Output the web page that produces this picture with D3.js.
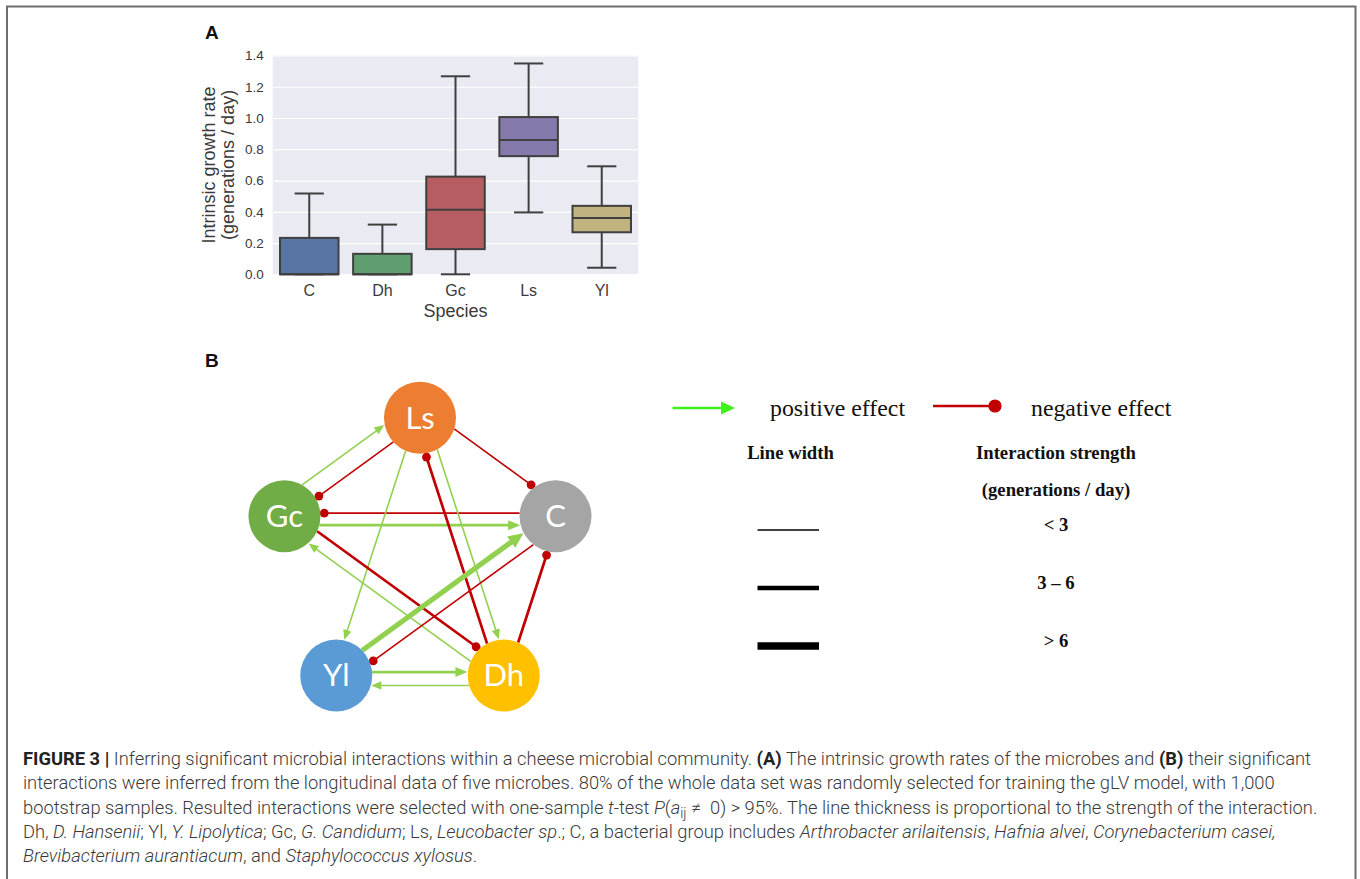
<!DOCTYPE html>
<html>
<head>
<meta charset="utf-8">
<script src="https://cdn.jsdelivr.net/npm/d3@7"></script>
<style>
  html, body { margin: 0; padding: 0; background: #fff; }
  svg { display: block; }
  text { white-space: pre; }
</style>
</head>
<body>
<svg id="fig" width="1360" height="879"></svg>
<script>
// ---- Panel A: intrinsic growth rate per species (box plot summary) ----
const species = ["C", "Dh", "Gc", "Ls", "Yl"];
const whiskerLow  = [0.000, 0.000, 0.000, 0.396, 0.042];
const q1          = [0.000, 0.000, 0.161, 0.756, 0.269];
const medians     = [0.000, 0.000, 0.413, 0.860, 0.360];
const q3          = [0.233, 0.131, 0.625, 1.006, 0.438];
const whiskerHigh = [0.517, 0.318, 1.267, 1.349, 0.691];
const growthTicks = [0.0, 0.2, 0.4, 0.6, 0.8, 1.0, 1.2, 1.4];

// ---- Panel B: significant interactions between the five microbes ----
const nodeNames = ["Ls", "C", "Dh", "Yl", "Gc"];
const edgeFrom     = ["Gc", "Ls", "Ls", "C",  "Gc",    "Ls", "Ls", "Dh",    "Gc",    "Dh", "Yl",  "C",  "Dh",    "Yl",    "Dh"];
const edgeTo       = ["Ls", "Gc", "C",  "Gc", "C",     "Yl", "Dh", "Ls",    "Dh",    "Gc", "C",   "Yl", "C",     "Dh",    "Yl"];
const edgeEffect   = ["pos","neg","neg","neg","pos",   "pos","pos","neg",   "neg",   "pos","pos", "neg","neg",   "pos",   "pos"];
const edgeStrength = ["< 3","< 3","< 3","< 3","3 – 6","< 3","< 3","3 – 6","3 – 6","< 3","> 6","< 3","3 – 6","3 – 6","< 3"];
const strengthBins = ["< 3", "3 – 6", "> 6"];

// ---- Caption text ----
const captionLines = [
  [{t: "FIGURE 3 | ", b: 1}, {t: "Inferring significant microbial interactions within a cheese microbial community. "}, {t: "(A)", b: 1}, {t: " The intrinsic growth rates of the microbes and "}, {t: "(B)", b: 1}, {t: " their significant"}],
  [{t: "interactions were inferred from the longitudinal data of five microbes. 80% of the whole data set was randomly selected for training the gLV model, with 1,000"}],
  [{t: "bootstrap samples. Resulted interactions were selected with one-sample "}, {t: "t", i: 1}, {t: "-test "}, {t: "P", i: 1}, {t: "("}, {t: "a", i: 1}, {t: "ij", sub: 1}, {t: " \u2260  0) > 95%. The line thickness is proportional to the strength of the interaction."}],
  [{t: "Dh, "}, {t: "D. Hansenii", i: 1}, {t: "; Yl, "}, {t: "Y. Lipolytica", i: 1}, {t: "; Gc, "}, {t: "G. Candidum", i: 1}, {t: "; Ls, "}, {t: "Leucobacter sp", i: 1}, {t: ".; C, a bacterial group includes "}, {t: "Arthrobacter arilaitensis", i: 1}, {t: ", "}, {t: "Hafnia alvei", i: 1}, {t: ", "}, {t: "Corynebacterium casei,", i: 1}],
  [{t: "Brevibacterium aurantiacum", i: 1}, {t: ", and "}, {t: "Staphylococcus xylosus", i: 1}, {t: "."}]
];

// ================= drawing =================
const svg = d3.select("#fig");
const SANS = "'Liberation Sans', Arial, Helvetica, sans-serif";
const SERIF = "'Liberation Serif', 'Times New Roman', serif";

// outer frame (open at the bottom)
svg.append("path")
  .attr("d", "M7,879 V6.5 H1355.5 V879")
  .attr("fill", "none").attr("stroke", "#6e6e6e").attr("stroke-width", 2);

// panel letters
svg.append("text").attr("x", 205).attr("y", 38.5).text("A")
  .attr("font-family", SANS).attr("font-weight", "bold").attr("font-size", 19).attr("fill", "#111");
svg.append("text").attr("x", 205).attr("y", 367).text("B")
  .attr("font-family", SANS).attr("font-weight", "bold").attr("font-size", 19).attr("fill", "#111");

// ---------- Panel A ----------
const plotL = 272.7, plotR = 638.3, plotT = 55.5, plotB = 274.3;
const x = d3.scaleBand().domain(species).range([plotL, plotR]).paddingInner(0).paddingOuter(0);
const y = d3.scaleLinear().domain([0, 1.4]).range([plotB, plotT]);
const boxFill = d3.scaleOrdinal().domain(species)
  .range(["#5975a4", "#5f9e6e", "#b55d60", "#857aab", "#c1b37f"]);

const gA = svg.append("g");
gA.append("rect").attr("x", plotL).attr("y", plotT)
  .attr("width", plotR - plotL).attr("height", plotB - plotT).attr("fill", "#eaeaf2");

const yAxis = d3.axisLeft(y).tickValues(growthTicks).tickFormat(d3.format(".1f"))
  .tickSize(-(plotR - plotL)).tickPadding(9);
const gy = gA.append("g").attr("transform", `translate(${plotL},0)`).call(yAxis);
gy.select(".domain").remove();
gy.selectAll(".tick line").attr("stroke", "#fff").attr("stroke-width", 1.2);
gy.selectAll(".tick text").attr("font-family", SANS).attr("font-size", 13.5).attr("fill", "#3a3a3a");

const xAxis = d3.axisBottom(x).tickSize(0).tickPadding(10);
const gx = gA.append("g").attr("transform", `translate(0,${plotB})`).call(xAxis);
gx.select(".domain").remove();
gx.selectAll(".tick text").attr("font-family", SANS).attr("font-size", 16).attr("fill", "#3a3a3a");

gA.append("text").attr("x", (plotL + plotR) / 2).attr("y", 316.5).attr("text-anchor", "middle")
  .attr("font-family", SANS).attr("font-size", 18).attr("fill", "#3a3a3a").text("Species");

const yl = gA.append("text").attr("transform", `translate(215,${(plotT + plotB) / 2}) rotate(-90)`)
  .attr("text-anchor", "middle").attr("font-family", SANS).attr("font-size", 18).attr("fill", "#3a3a3a");
yl.append("tspan").attr("x", 0).attr("y", 0).text("Intrinsic growth rate");
yl.append("tspan").attr("x", 0).attr("y", 19).text("(generations / day)");

const edgeGray = "#3f3f3f";
const bw = x.bandwidth() * 0.8;
const boxes = gA.selectAll("g.box").data(species).join("g").attr("class", "box");
boxes.each(function (s, i) {
  const g = d3.select(this);
  const cx = x(s) + x.bandwidth() / 2;
  // whiskers
  g.append("line").attr("x1", cx).attr("x2", cx).attr("y1", y(q3[i])).attr("y2", y(whiskerHigh[i]))
    .attr("stroke", edgeGray).attr("stroke-width", 2);
  g.append("line").attr("x1", cx).attr("x2", cx).attr("y1", y(q1[i])).attr("y2", y(whiskerLow[i]))
    .attr("stroke", edgeGray).attr("stroke-width", 2);
  // caps
  [whiskerHigh[i], whiskerLow[i]].forEach(v => {
    g.append("line").attr("x1", cx - bw / 4).attr("x2", cx + bw / 4).attr("y1", y(v)).attr("y2", y(v))
      .attr("stroke", edgeGray).attr("stroke-width", 2);
  });
  // box
  g.append("rect").attr("x", cx - bw / 2).attr("y", y(q3[i]))
    .attr("width", bw).attr("height", y(q1[i]) - y(q3[i]))
    .attr("fill", boxFill(s)).attr("stroke", edgeGray).attr("stroke-width", 2);
  // median
  g.append("line").attr("x1", cx - bw / 2).attr("x2", cx + bw / 2).attr("y1", y(medians[i])).attr("y2", y(medians[i]))
    .attr("stroke", edgeGray).attr("stroke-width", 2);
});

// ---------- Panel B ----------
const netCx = 420, netCy = 560.2, netR = 142.5, nodeR = 36;
const nodeFill = d3.scaleOrdinal().domain(nodeNames)
  .range(["#ed7d31", "#a5a5a5", "#ffc000", "#5b9bd5", "#70ad47"]);
const angle = d3.scalePoint().domain(nodeNames).range([0, 288]);
const pos = {};
nodeNames.forEach(n => {
  const a = (angle(n) - 90) * Math.PI / 180;
  pos[n] = [netCx + netR * Math.cos(a), netCy + netR * Math.sin(a)];
});

// perpendicular lane of each edge so that paired edges run side by side
const edgeLane = [-15, -4, -11, 3, 9, 3.4, -6.5, -6, -7, -8, -5, -10, 3.5, -3.4, -10];
const effectColor = {pos: "#92d050", neg: "#c00000"};
const netWidth = d3.scaleOrdinal().domain(strengthBins).range([1.6, 2.7, 5.2]);
const headLen = d3.scaleOrdinal().domain(strengthBins).range([10, 12, 15]);
const headHalf = d3.scaleOrdinal().domain(strengthBins).range([4.2, 5, 7]);
const dotR = 4.4;

const gE = svg.append("g");
edgeFrom.forEach((src, i) => {
  const s = pos[src], t = pos[edgeTo[i]];
  const dx = t[0] - s[0], dy = t[1] - s[1], L = Math.hypot(dx, dy);
  const ux = dx / L, uy = dy / L, nx = -uy, ny = ux;
  const o = edgeLane[i];
  const h = Math.sqrt(nodeR * nodeR - o * o);
  const ox = s[0] + o * nx, oy = s[1] + o * ny;
  const P = d => [ox + ux * d, oy + uy * d];
  const col = effectColor[edgeEffect[i]];
  const w = netWidth(edgeStrength[i]);
  const t0 = h, t1 = L - h;
  if (edgeEffect[i] === "pos") {
    const hl = headLen(edgeStrength[i]), hh = headHalf(edgeStrength[i]);
    const tip = P(t1 - 0.5), base = P(t1 - 0.5 - hl), lineEnd = P(t1 - hl + 1);
    const a = P(t0);
    gE.append("line").attr("x1", a[0]).attr("y1", a[1]).attr("x2", lineEnd[0]).attr("y2", lineEnd[1])
      .attr("stroke", col).attr("stroke-width", w);
    gE.append("path")
      .attr("d", d3.line()([tip, [base[0] + nx * hh, base[1] + ny * hh], [base[0] - nx * hh, base[1] - ny * hh]]) + "Z")
      .attr("fill", col);
  } else {
    const a = P(t0), c = P(t1 - dotR + 0.5);
    gE.append("line").attr("x1", a[0]).attr("y1", a[1]).attr("x2", c[0]).attr("y2", c[1])
      .attr("stroke", col).attr("stroke-width", w);
    gE.append("circle").attr("cx", c[0]).attr("cy", c[1]).attr("r", dotR).attr("fill", col);
  }
});

const gN = svg.append("g").selectAll("g").data(nodeNames).join("g")
  .attr("transform", n => `translate(${pos[n][0]},${pos[n][1]})`);
gN.append("circle").attr("r", nodeR).attr("fill", n => nodeFill(n));
gN.append("text").attr("text-anchor", "middle").attr("y", 11)
  .attr("font-family", "Lato, 'Open Sans', sans-serif").attr("font-size", 31).attr("fill", "#fff")
  .text(n => n);

// ---------- Legend ----------
const gL = svg.append("g");
gL.append("line").attr("x1", 672.5).attr("x2", 722).attr("y1", 408).attr("y2", 408)
  .attr("stroke", "#3ff01a").attr("stroke-width", 2.6);
gL.append("path").attr("d", d3.line()([[735, 408], [721, 401.6], [721, 414.4]]) + "Z").attr("fill", "#3ff01a");
gL.append("text").attr("x", 770).attr("y", 415.5).text("positive effect")
  .attr("font-family", SERIF).attr("font-size", 23.8).attr("fill", "#111");
gL.append("line").attr("x1", 933).attr("x2", 994).attr("y1", 406).attr("y2", 406)
  .attr("stroke", "#c00000").attr("stroke-width", 2.6);
gL.append("circle").attr("cx", 995).attr("cy", 406).attr("r", 6.6).attr("fill", "#c00000");
gL.append("text").attr("x", 1031).attr("y", 415.5).text("negative effect")
  .attr("font-family", SERIF).attr("font-size", 23.8).attr("fill", "#111");

const boldSerif = sel => sel.attr("font-family", SERIF).attr("font-weight", "bold")
  .attr("font-size", 18.7).attr("fill", "#111").attr("text-anchor", "middle");
gL.append("text").attr("x", 790.5).attr("y", 458.5).text("Line width").call(boldSerif);
gL.append("text").attr("x", 1056).attr("y", 458.5).text("Interaction strength").call(boldSerif);
gL.append("text").attr("x", 1056).attr("y", 495.5).text("(generations / day)").call(boldSerif);

const legendY = d3.scalePoint().domain(strengthBins).range([530, 646]);
const legendWidth = d3.scaleOrdinal().domain(strengthBins).range([1.3, 4.6, 7.6]);
strengthBins.forEach(b => {
  gL.append("line").attr("x1", 757.5).attr("x2", 819).attr("y1", legendY(b)).attr("y2", legendY(b))
    .attr("stroke", "#000").attr("stroke-width", legendWidth(b));
  gL.append("text").attr("x", 1056).attr("y", legendY(b) + 0.5).text(b).call(boldSerif);
});

// ---------- Caption ----------
const CAP = "Roboto, 'Liberation Sans', Arial, sans-serif";
const capX = 23, capY0 = 765, capStep = 24.25;
const capTexts = captionLines.map((segs, li) => {
  const tx = svg.append("text").attr("x", capX).attr("y", capY0 + li * capStep)
    .attr("font-family", CAP).attr("font-weight", 300).attr("fill", "#3a3a3a").attr("font-size", 16);
  let shifted = false;
  segs.forEach(sg => {
    const ts = tx.append("tspan").text(sg.t);
    if (sg.b) ts.attr("font-weight", "bold").attr("fill", "#222");
    if (sg.i) ts.attr("font-style", "italic");
    if (sg.sub) { ts.attr("dy", 4).attr("font-size", "0.75em"); shifted = true; }
    else if (shifted) { ts.attr("dy", -4); shifted = false; }
  });
  return tx;
});
// size the caption so the first and third lines together span their set widths
function fitCaption() {
  capTexts.forEach(tx => tx.attr("font-size", 16));
  const w1 = capTexts[0].node().getComputedTextLength();
  const w3 = capTexts[2].node().getComputedTextLength();
  const size = 16 * (1277 + 1308) / (w1 + w3);
  capTexts.forEach(tx => tx.attr("font-size", size));
}
fitCaption();
if (document.fonts && document.fonts.ready) document.fonts.ready.then(fitCaption);
</script>
</body>
</html>
